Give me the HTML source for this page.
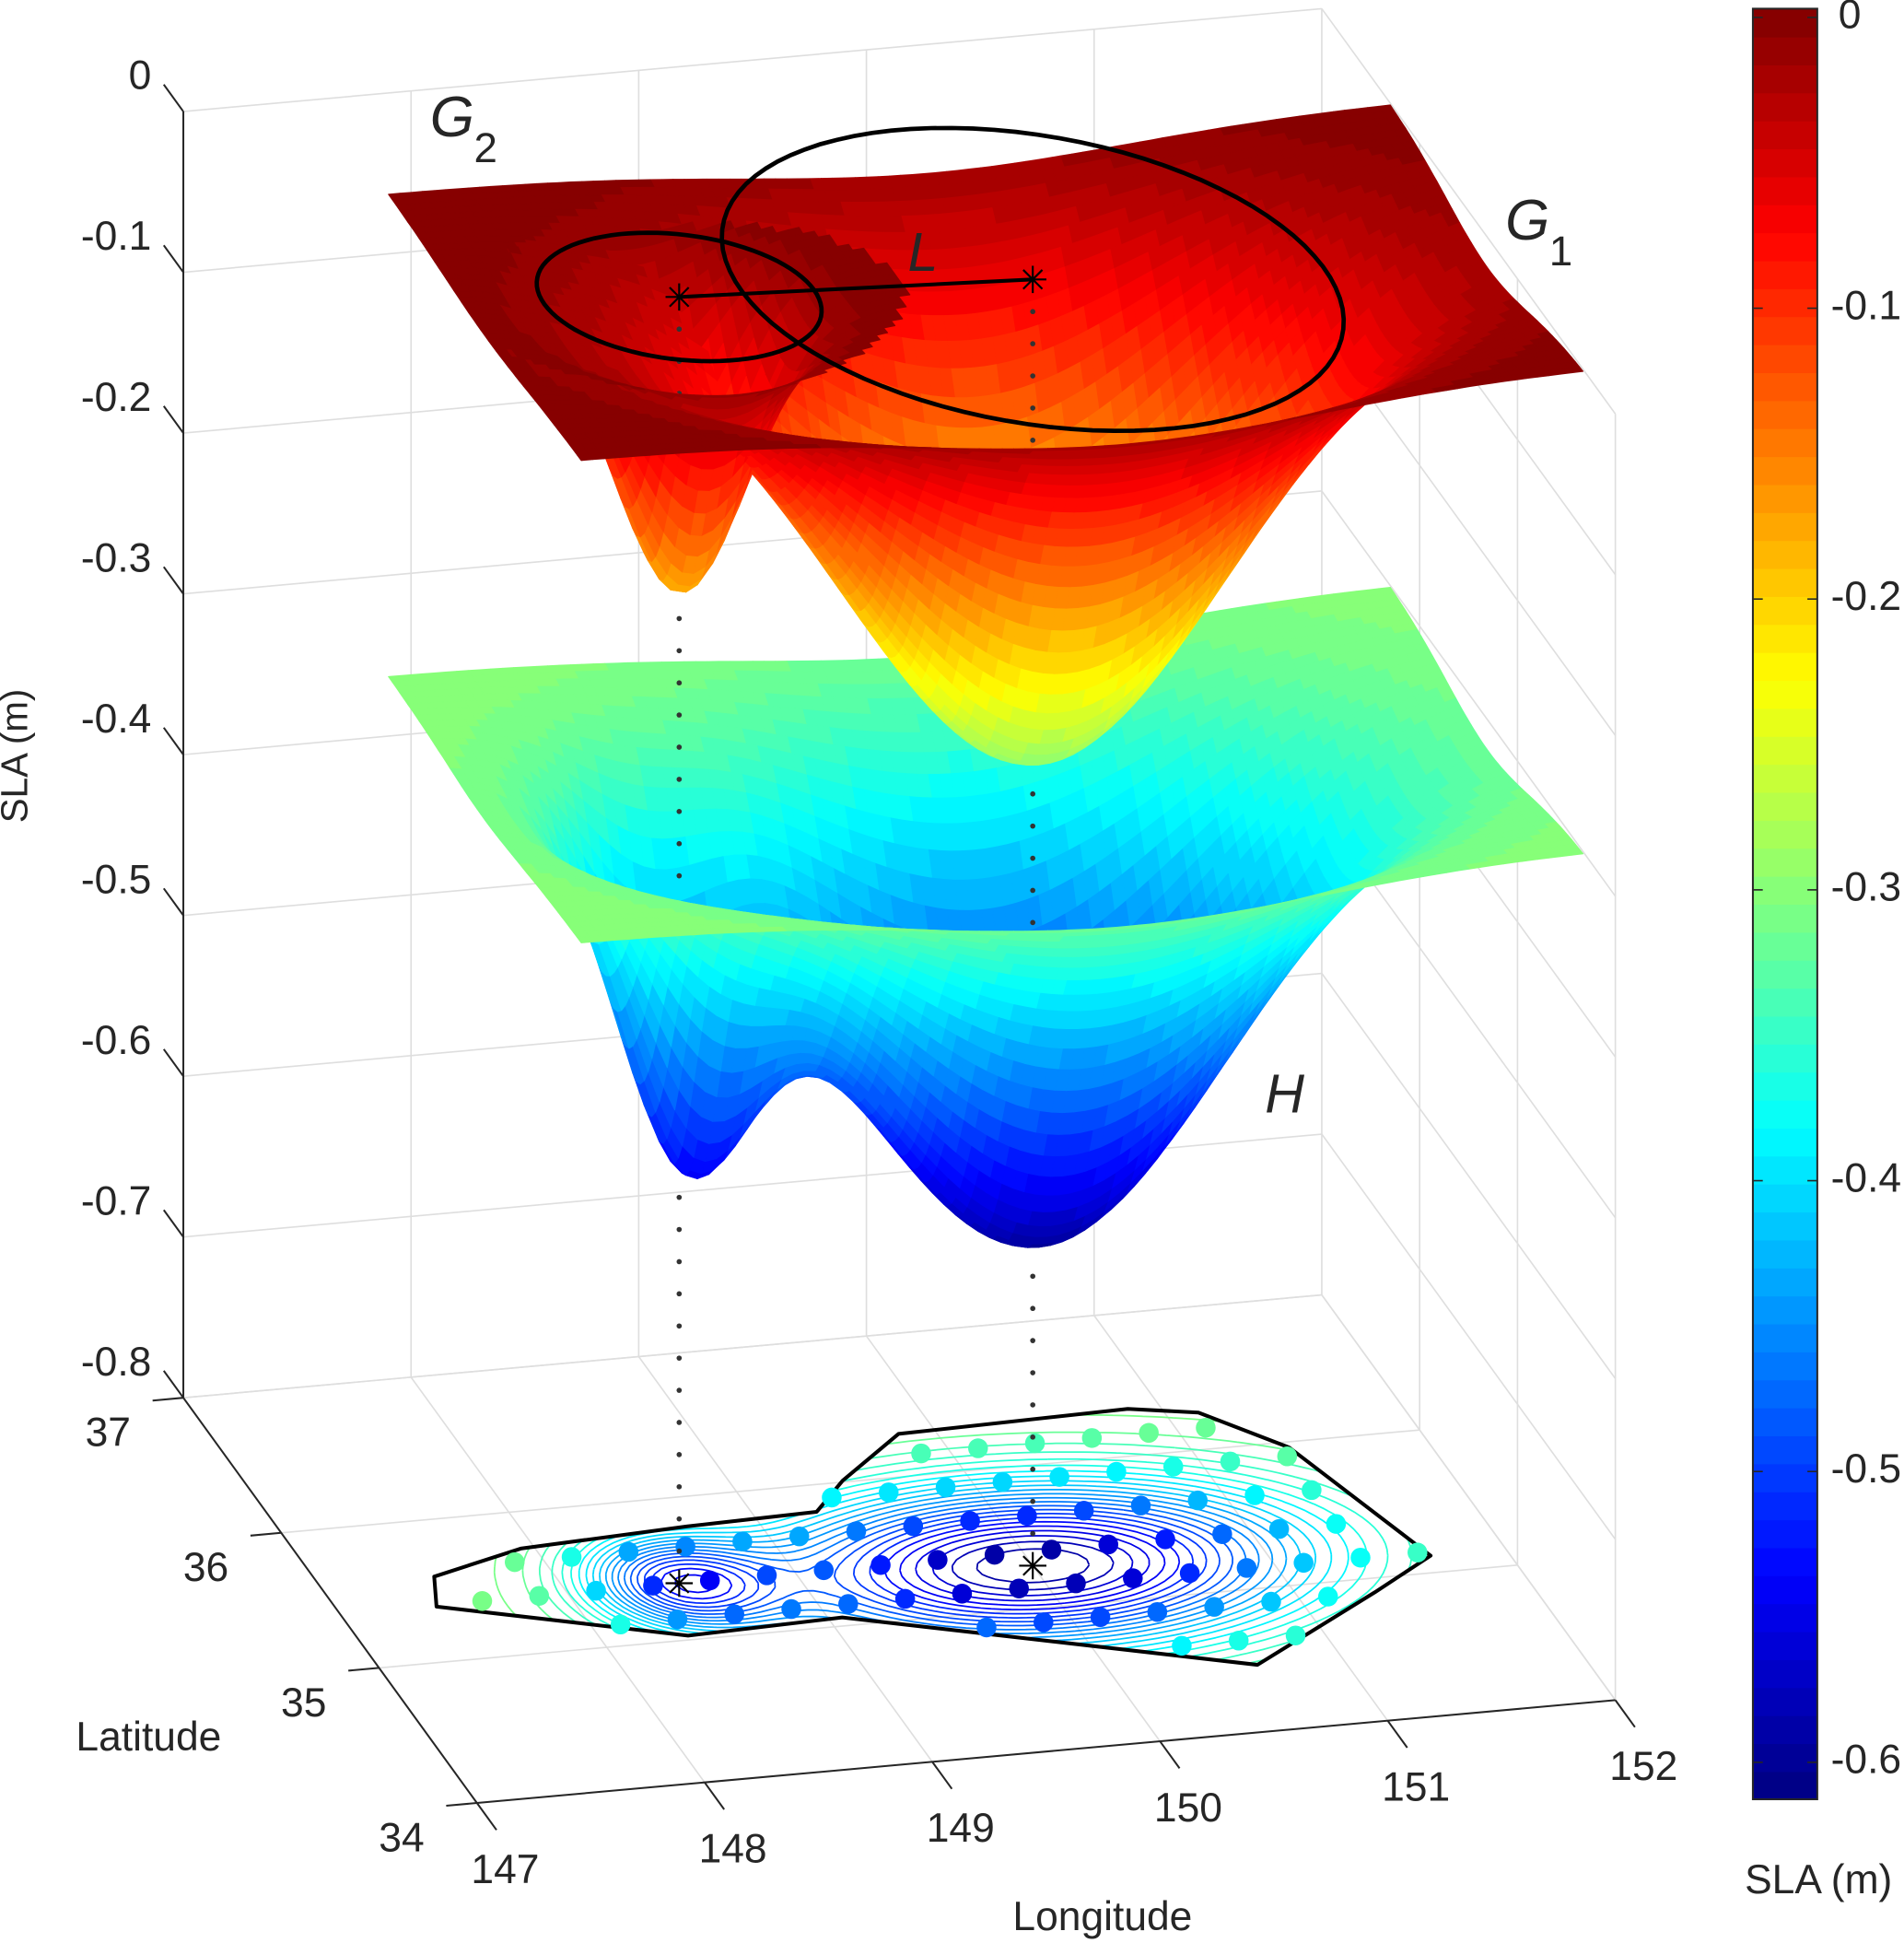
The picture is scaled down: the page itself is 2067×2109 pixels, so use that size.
<!DOCTYPE html>
<html><head><meta charset="utf-8"><style>
html,body{margin:0;padding:0;background:#fff;}
svg{display:block;}
text{font-family:"Liberation Sans",Arial,sans-serif;fill:#262626;}
</style></head>
<body>
<svg id="chart" xmlns="http://www.w3.org/2000/svg" width="2067" height="2109" viewBox="0 0 1537 1568" preserveAspectRatio="none">
<g id="walls"></g>
<g id="floor"></g>
<g id="surf"></g>
<g id="over"></g>
<g id="labels"></g>
<g id="cbar"></g>
</svg>
<script>
// ---- data ----
const eddyNames = ['G1','G2'];
const eddyLon = [150.0, 148.49];
const eddyLat = [35.3, 35.4];
const eddyAmp = [-0.30, -0.183];
const eddySigLon = [0.85, 0.28];
const eddySigLat = [0.42, 0.25];
const ellipseRLon = [1.255, 0.58];
const ellipseRLat = [1.10, 0.47];
const ellipseRotDeg = [-22, -10];
const g2PatchRLon = 0.95;
const g2PatchRLat = 0.6;
const baseTop = 0.0;
const baseH = -0.3;
const domainLon = [147.6, 152.0];
const domainLat = [34.33, 36.3];
const zTicks = [0,-0.1,-0.2,-0.3,-0.4,-0.5,-0.6,-0.7,-0.8];
const zTickLabels = ['0','-0.1','-0.2','-0.3','-0.4','-0.5','-0.6','-0.7','-0.8'];
const lonTicks = [147,148,149,150,151,152];
const latTicks = [34,35,36,37];
const cbTicks = [0,-0.1,-0.2,-0.3,-0.4,-0.5,-0.6];
const cbTickLabels = ['0','-0.1','-0.2','-0.3','-0.4','-0.5','-0.6'];
const clim = [-0.6127, 0.003];
const outlineLon = [147.50,147.42,148.37,149.06,150.63,151.33,151.67,151.41,151.14,150.86,149.84,149.47,149.27,148.69,147.94];
const outlineLat = [35.60,35.39,35.03,35.06,34.47,34.90,35.12,35.96,36.26,36.33,36.30,36.01,35.81,35.79,35.74];
const sampleLon0 = 147.125, sampleLat0 = 34.15, sampleStep = 0.25;

// ---- projection ----
const NS='http://www.w3.org/2000/svg';
function P(lon,lat,z){return [148+(lon-147)*183.8+(37-lat)*79, 1128-(lon-147)*16.6+(37-lat)*109-(z+0.8)*1297.5];}
function near(lon,lat){return -16.6*(lon-147)+109*(37-lat);}
function cl(v){return Math.max(0,Math.min(1,v));}
function jet(t){t=cl(t);t=(Math.min(63,Math.floor(t*64))+0.5)/64;
 const r=cl(Math.min(4*t-1.5,-4*t+4.5)),g=cl(Math.min(4*t-0.5,-4*t+3.5)),b=cl(Math.min(4*t+0.5,-4*t+2.5));
 return 'rgb('+Math.round(r*255)+','+Math.round(g*255)+','+Math.round(b*255)+')';}
function col(v){return jet((v-clim[0])/(clim[1]-clim[0]));}
function G(k,lon,lat){const a=(lon-eddyLon[k])/eddySigLon[k],b=(lat-eddyLat[k])/eddySigLat[k];return eddyAmp[k]*Math.exp(-0.5*(a*a+b*b));}
function Hs(lon,lat){return baseH+G(0,lon,lat)+G(1,lon,lat);}
function el(tag,parent,attrs){const e=document.createElementNS(NS,tag);for(const k in attrs)e.setAttribute(k,attrs[k]);parent.appendChild(e);return e;}
function line(parent,a,b,stroke,w,name){const e=el('line',parent,{x1:a[0],y1:a[1],x2:b[0],y2:b[1],stroke:stroke,'stroke-width':w});
 
 
 return e;}
function txt(parent,x,y,s,size,anchor,name,extra){const e=el('text',parent,Object.assign({x:x,y:y,'font-size':size,'text-anchor':anchor,'dominant-baseline':'middle'},extra||{}));e.textContent=s;
 
 
 return e;}

const walls=document.getElementById('walls');
const GRID='#dedede';
zTicks.forEach(z=>{line(walls,P(147,37,z),P(152,37,z),GRID,1.2,'grid-line');line(walls,P(152,37,z),P(152,34,z),GRID,1.2,'grid-line');});
lonTicks.forEach(l=>{if(l>147)line(walls,P(l,37,-0.8),P(l,37,0),GRID,1.2,'grid-line');line(walls,P(l,37,-0.8),P(l,34,-0.8),GRID,1.2,'grid-line');});
latTicks.forEach(l=>{if(l<37)line(walls,P(152,l,-0.8),P(152,l,0),GRID,1.2,'grid-line');line(walls,P(147,l,-0.8),P(152,l,-0.8),GRID,1.2,'grid-line');});
line(walls,P(147,37,-0.8),P(147,37,0),'#262626',1.5,'z-axis-line');
line(walls,P(147,37,-0.8),P(147,34,-0.8),'#262626',1.5,'latitude-axis-line');
line(walls,P(147,34,-0.8),P(152,34,-0.8),'#262626',1.5,'longitude-axis-line');
const labels=document.getElementById('labels');
zTicks.forEach((z,i)=>{const a=P(147,37,z),b=P(147,37.2,z);line(labels,a,b,'#262626',1.5,'z-tick');txt(labels,b[0]-10,b[1]-5,zTickLabels[i],33,'end','z-tick-label');});
latTicks.forEach(l=>{const a=P(147,l,-0.8),b=P(146.865,l,-0.8);line(labels,a,b,'#262626',1.5,'lat-tick');txt(labels,b[0]-36,b[1]+28,String(l),33,'middle','lat-tick-label');});
lonTicks.forEach(l=>{const a=P(l,34,-0.8),b=P(l,33.8,-0.8);line(labels,a,b,'#262626',1.5,'lon-tick');txt(labels,b[0]+7,b[1]+34,String(l),33,'middle','lon-tick-label');});
txt(labels,120,1404,'Latitude',33,'middle','latitude-axis-title');
txt(labels,890,1549,'Longitude',33,'middle','longitude-axis-title');
txt(labels,14,610,'SLA (m)',30,'middle','z-axis-title',{transform:'rotate(-90 14 610)'});
txt(labels,1468,1519,'SLA (m)',33,'middle','colorbar-title');
txt(labels,365,98,'G',46,'middle','label-g2',{'font-style':'italic'});
txt(labels,392,122,'2',34,'middle','label-g2-subscript');
txt(labels,1233,181,'G',46,'middle','label-g1',{'font-style':'italic'});
txt(labels,1260,205,'1',34,'middle','label-g1-subscript');
txt(labels,745,207,'L',44,'middle','label-l',{'font-style':'italic'});
txt(labels,1037,886,'H',44,'middle','label-h',{'font-style':'italic'});

// ---- floor ----
const floor=document.getElementById('floor');
function inPoly(x,y){let c=false;for(let i=0,j=outlineLon.length-1;i<outlineLon.length;j=i++){const xi=outlineLon[i],yi=outlineLat[i],xj=outlineLon[j],yj=outlineLat[j];
 if(((yi>y)!==(yj>y))&&(x<(xj-xi)*(y-yi)/(yj-yi)+xi))c=!c;}return c;}
const outlinePts=outlineLon.map((l,i)=>P(l,outlineLat[i],-0.8).join(',')).join(' ');
const defs=el('defs',floor,{});
const cp=el('clipPath',defs,{id:'polyclip'});
el('polygon',cp,{points:outlinePts});
const contG=el('g',floor,{'clip-path':'url(#polyclip)'});


const gx0=147.3,gx1=151.9,gy0=34.35,gy1=36.45,gs=0.04;
const nx=Math.round((gx1-gx0)/gs)+1,ny=Math.round((gy1-gy0)/gs)+1;
const V=[];for(let i=0;i<nx;i++){V.push([]);for(let j=0;j<ny;j++)V[i].push(Hs(gx0+i*gs,gy0+j*gs));}
for(let lev=-0.6;lev<-0.305;lev+=0.012){let d='';
 for(let i=0;i<nx-1;i++)for(let j=0;j<ny-1;j++){
  const cs=[[i,j],[i+1,j],[i+1,j+1],[i,j+1]];const pts=[];
  for(let e=0;e<4;e++){const p=cs[e],q=cs[(e+1)%4];const a=V[p[0]][p[1]],b=V[q[0]][q[1]];
   if((a<lev)!==(b<lev)){const t=(lev-a)/(b-a);const lo=gx0+(p[0]+(q[0]-p[0])*t)*gs,la=gy0+(p[1]+(q[1]-p[1])*t)*gs;pts.push(P(lo,la,-0.8));}}
  for(let k=0;k+1<pts.length;k+=2)d+='M'+pts[k][0].toFixed(1)+' '+pts[k][1].toFixed(1)+'L'+pts[k+1][0].toFixed(1)+' '+pts[k+1][1].toFixed(1);}
 if(d){const pe=el('path',contG,{d:d,fill:'none',stroke:col(lev),'stroke-width':1.3});
  
  }}
const outline=el('polygon',floor,{points:outlinePts,fill:'none',stroke:'#000','stroke-width':3,'stroke-linejoin':'round'});


for(let i=0;i<20;i++)for(let j=0;j<10;j++){const lo=sampleLon0+i*sampleStep,la=sampleLat0+j*sampleStep;
 if(!inPoly(lo,la))continue;const p=P(lo,la,-0.8);
 const c=el('circle',floor,{cx:p[0],cy:p[1],r:8,fill:col(Hs(lo,la))});
 
 }

function star(parent,p,s,name){const g=el('g',parent,{stroke:'#000','stroke-width':1.6});
 
 
 [[s,0],[0,s],[s*0.7,s*0.7],[s*0.7,-s*0.7]].forEach(v=>el('line',g,{x1:p[0]-v[0],y1:p[1]-v[1],x2:p[0]+v[0],y2:p[1]+v[1]}));}
eddyNames.forEach((n,k)=>star(floor,P(eddyLon[k],eddyLat[k],-0.8),11,'floor-center-'+n.toLowerCase()));

// ---- surfaces (painter) ----
const items=[];
const nL=88,nB=50;
const surfFns=[(lo,la)=>baseTop+G(0,lo,la),(lo,la)=>baseTop+G(1,lo,la),Hs];
const surfNames=['surface-g1','surface-g2','surface-h'];
surfFns.forEach((f,si)=>{for(let i=0;i<nL;i++)for(let j=0;j<nB;j++){
 const l0=domainLon[0]+i*(domainLon[1]-domainLon[0])/nL,l1=domainLon[0]+(i+1)*(domainLon[1]-domainLon[0])/nL;
 const b0=domainLat[0]+j*(domainLat[1]-domainLat[0])/nB,b1=domainLat[0]+(j+1)*(domainLat[1]-domainLat[0])/nB;
 const lc=(l0+l1)/2,bc=(b0+b1)/2;
 if(si===1){const a=(lc-eddyLon[1])/g2PatchRLon,b=(bc-eddyLat[1])/g2PatchRLat;if(a*a+b*b>1)continue;}
 const z=[f(l0,b0),f(l1,b0),f(l1,b1),f(l0,b1)];const zm=(z[0]+z[1]+z[2]+z[3])/4;
 const pts=[P(l0,b0,z[0]),P(l1,b0,z[1]),P(l1,b1,z[2]),P(l0,b1,z[3])];
 items.push({t:0,n:near(lc,bc),z:zm,pts:pts,c:col(zm),s:si});}});
eddyNames.forEach((n,k)=>{for(let z=-0.02;z>-0.79;z-=0.02){items.push({t:1,n:near(eddyLon[k],eddyLat[k])+0.01,z:z,p:P(eddyLon[k],eddyLat[k],z)});}});
items.sort((a,b)=>a.n-b.n||a.z-b.z);
const surf=document.getElementById('surf');
items.forEach(it=>{
 if(it.t===0){const pe=el('polygon',surf,{points:it.pts.map(p=>p[0].toFixed(1)+','+p[1].toFixed(1)).join(' '),fill:it.c,stroke:it.c,'stroke-width':0.8,'stroke-linejoin':'round'});
  
  }
 else{const c=el('circle',surf,{cx:it.p[0],cy:it.p[1],r:2.1,fill:'#333'});
  
  }});

// ---- overlay ----
const over=document.getElementById('over');
eddyNames.forEach((n,k)=>{const th=ellipseRotDeg[k]*Math.PI/180,c=Math.cos(th),s=Math.sin(th);let d='';
 for(let a=0;a<=360;a+=4){const r=a*Math.PI/180,u=ellipseRLon[k]*Math.cos(r),v=ellipseRLat[k]*Math.sin(r);
  const p=P(eddyLon[k]+u*c-v*s,eddyLat[k]+u*s+v*c,0);d+=(a?'L':'M')+p[0].toFixed(1)+' '+p[1].toFixed(1);}
 const pe=el('path',over,{d:d+'Z',fill:'none',stroke:'#000','stroke-width':3.5});
 
 });
line(over,P(eddyLon[0],eddyLat[0],0),P(eddyLon[1],eddyLat[1],0),'#000',3,'distance-line-l');
eddyNames.forEach((n,k)=>star(over,P(eddyLon[k],eddyLat[k],0),11,'center-'+n.toLowerCase()));

// ---- colorbar ----
const cb=document.getElementById('cbar');
const cbX=1415,cbW=52,cbTop=7,cbBot=1452;
function cbY(v){return cbBot-(v-clim[0])/(clim[1]-clim[0])*(cbBot-cbTop);}
for(let k=0;k<64;k++){const y0=cbBot-(k+1)*(cbBot-cbTop)/64,h=(cbBot-cbTop)/64;
 const r=el('rect',cb,{x:cbX,y:y0.toFixed(2),width:cbW,height:(h+0.6).toFixed(2),fill:jet((k+0.5)/64)});
 
 }
const frame=el('rect',cb,{x:cbX,y:cbTop,width:cbW,height:cbBot-cbTop,fill:'none',stroke:'#262626','stroke-width':1.5});


cbTicks.forEach((v,i)=>{const y=cbY(v);line(cb,[cbX,y],[cbX+8,y],'#262626',1.2,'colorbar-tick');line(cb,[cbX+cbW-8,y],[cbX+cbW,y],'#262626',1.2,'colorbar-tick');
 txt(cb,v===0?1484:1478,y,cbTickLabels[i],33,'start','colorbar-tick-label');});
</script>
</body></html>
